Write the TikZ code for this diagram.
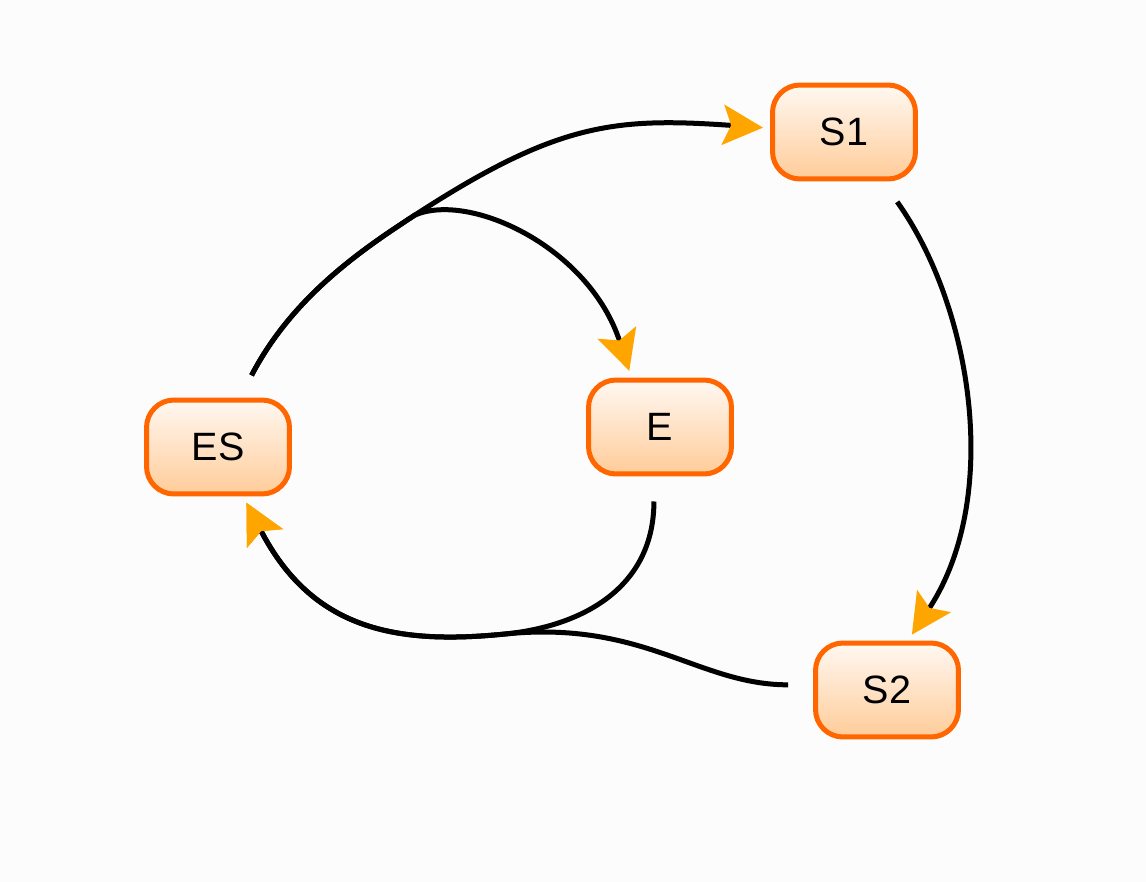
\documentclass[tikz,border=0pt]{standalone}
\usepackage{xcolor}
\usepackage{fontspec}
\setmainfont{Liberation Sans}
\usetikzlibrary{arrows.meta, calc}
\definecolor{stateborder}{HTML}{FF6600}
\definecolor{statetop}{HTML}{FFF8F2}
\definecolor{statebottom}{HTML}{FFCC99}
\definecolor{tipcolor}{HTML}{FFA500}
\definecolor{bgcolor}{HTML}{FCFCFC}
\tikzstyle{arrow} = [line width=0.1cm, shorten <=0.5cm, shorten >=0.14cm, -{Stealth[length=0.2pt, width=0.2pt, inset=0pt] Stealth[color=tipcolor, length=0.8cm, width=0.8cm, inset=0.16cm]}]
\tikzstyle{state} = [rectangle, rounded corners=0.55cm, minimum width=2.86cm, minimum height=1.88cm, draw=stateborder, line width=0.1cm, top color=statetop, bottom color=statebottom, font=\fontsize{22.5}{26}\selectfont]

\begin{document}
\begin{tikzpicture}[x=0.02cm, y=-0.02cm]
    \fill[bgcolor] (0,0) rectangle (1146,882);
    % States
    \node[state] (S1) at (844,132) {S1};
    \node[state] (E) at (660,427) {E};
    \node[state] (ES) at (218,447) {ES};
    \node[state] (S2) at (887,690) {S2};

    % Where the curves meet
    \coordinate (split) at (415,215);
    \coordinate (join) at (505,634);

    % Transitions
    \draw[arrow] (ES.66) .. controls +(52,-100) and +(-54.5,35.4) .. (split) .. controls +(142.5,-92.65) and +(-154.7,-10.9) .. (S1.177);
    \draw[arrow] (ES.66) .. controls +(52,-100) and +(-54.5,35.4) .. (split) .. controls +(55.2,-23.4) and +(-42.2,-130.1) .. (E.120);
    \draw[arrow] (S1.-52) .. controls +(89.7,125.8) and +(94,-142.5) .. (S2.67);
    \draw[arrow] (E.-97) .. controls +(0,110) and +(79.2,-8) .. (join) .. controls +(-109.5,11) and +(69,133.2) .. (ES.-63);
    \draw[arrow] (S2.176) .. controls +(-115,0) and +(139.3,-14) .. (join) .. controls +(-109.5,11) and +(69,133.2) .. (ES.-63);
\end{tikzpicture}
\end{document}
